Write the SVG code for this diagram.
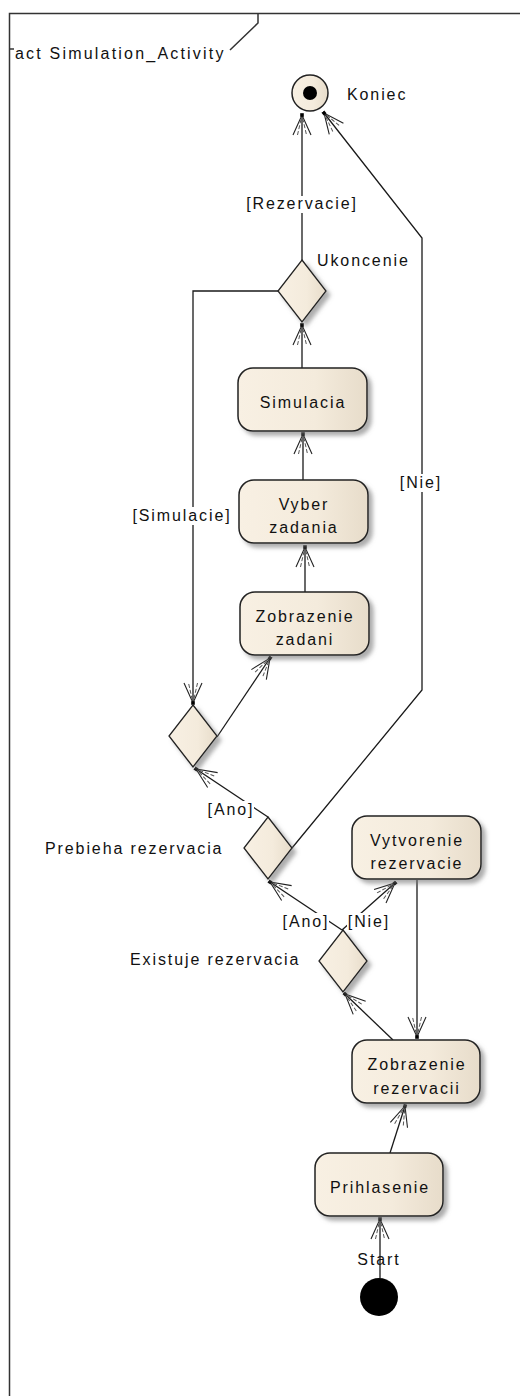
<svg xmlns="http://www.w3.org/2000/svg" width="520" height="1396" viewBox="0 0 520 1396">
  <style>
    text { font-family: "Liberation Sans", Arial, sans-serif; font-size: 16px; letter-spacing: 1.9px; fill: #111; }
    .mid { text-anchor: middle; }
    .frame { fill: none; stroke: #333; stroke-width: 1.5; }
    .act { fill: url(#cream); stroke: #222; stroke-width: 1.5; filter: url(#sh); }
    .dec { fill: url(#cream); stroke: #222; stroke-width: 1.3; filter: url(#sh); }
    .flow { fill: none; stroke: #1a1a1a; stroke-width: 1.3; marker-end: url(#arr); }
    .bg { fill: #fff; }
  </style>
  <defs>
    <linearGradient id="cream" x1="0" y1="0" x2="1" y2="0">
      <stop offset="0" stop-color="#f8f0e3"/>
      <stop offset="0.6" stop-color="#f4ebdc"/>
      <stop offset="1" stop-color="#e7dcca"/>
    </linearGradient>
    <filter id="sh" x="-15%" y="-15%" width="140%" height="140%">
      <feDropShadow dx="4" dy="4" stdDeviation="2" flood-color="#777" flood-opacity="0.6"/>
    </filter>
    <!-- open arrowhead with doubled arms and a small dot at the tip -->
    <marker id="arr" viewBox="-22 -11 24 22" refX="0" refY="0" markerWidth="24" markerHeight="22" markerUnits="userSpaceOnUse" orient="auto">
      <path d="M-20,-9 L0,0 L-20,9" fill="none" stroke="#222" stroke-width="1.1"/>
      <path d="M-20,-4.5 L0,0 L-20,4.5" fill="none" stroke="#555" stroke-width="1" stroke-dasharray="4 2"/>
      <rect x="-1.8" y="-1.8" width="3.6" height="3.6" fill="#000"/>
    </marker>
  </defs>

  <rect width="520" height="1396" fill="#fff"/>

  <!-- activity frame and name tab -->
  <g id="frame">
    <path class="frame" d="M9.5,1396 V13.5 H520"/>
    <path class="frame" d="M9.5,49 H14"/>
    <path class="frame" d="M258,13.5 V23 L230,50"/>
    <text x="15" y="59" style="letter-spacing:2.2px">act Simulation_Activity</text>
  </g>

  <!-- control flows -->
  <g id="connectors">
    <path class="flow" d="M380,1278 V1219"/>
    <path class="flow" d="M390,1153 L405,1106"/>
    <path class="flow" d="M393,1040 L345,994"/>
    <path class="flow" d="M342,930 L270,882"/>
    <path class="flow" d="M342,930 L395,883"/>
    <path class="flow" d="M417,880 V1037"/>
    <path class="flow" d="M268,817 L196,769"/>
    <path class="flow" d="M292,848 L422,690 V238 L324,113"/>
    <path class="flow" d="M217,737 L270,658"/>
    <path class="flow" d="M305,592 V547"/>
    <path class="flow" d="M303,480 V434"/>
    <path class="flow" d="M302,368 V325"/>
    <path class="flow" d="M302,260 V115"/>
    <path class="flow" d="M278,291 H193 V703"/>

    <!-- guard labels -->
    <rect class="bg" x="246" y="196" width="111" height="17"/>
    <text class="mid" x="302" y="209">[Rezervacie]</text>
    <rect class="bg" x="131" y="507" width="101" height="18"/>
    <text class="mid" x="182" y="521">[Simulacie]</text>
    <rect class="bg" x="401" y="474" width="39" height="18"/>
    <text class="mid" x="421" y="488">[Nie]</text>
    <rect class="bg" x="207" y="801" width="47" height="18"/>
    <text class="mid" x="231" y="815">[Ano]</text>
    <rect class="bg" x="282" y="913" width="47" height="18"/>
    <text class="mid" x="306" y="927">[Ano]</text>
    <rect class="bg" x="347" y="913" width="42" height="18"/>
    <text class="mid" x="369" y="927">[Nie]</text>
    <text class="mid" x="379" y="1265">Start</text>
  </g>

  <g id="final">
    <circle cx="310" cy="93" r="18" fill="url(#cream)" stroke="#222" stroke-width="1.5"/>
    <circle cx="310" cy="93" r="7" fill="#000"/>
    <text x="347" y="100">Koniec</text>
  </g>

  <g id="ukoncenie">
    <path class="dec" d="M302,260 L326,291 L302,322 L278,291 Z"/>
    <text x="317" y="266">Ukoncenie</text>
  </g>

  <g id="simulacia">
    <rect class="act" x="238" y="368" width="129" height="63" rx="15"/>
    <text class="mid" x="303" y="408">Simulacia</text>
  </g>

  <g id="vyber-zadania">
    <rect class="act" x="239" y="480" width="129" height="63" rx="15"/>
    <text class="mid" x="304" y="510">Vyber</text>
    <text class="mid" x="304" y="533">zadania</text>
  </g>

  <g id="zobrazenie-zadani">
    <rect class="act" x="240" y="592" width="129" height="63" rx="15"/>
    <text class="mid" x="305" y="622">Zobrazenie</text>
    <text class="mid" x="305" y="645">zadani</text>
  </g>

  <g id="volba-simulacie">
    <path class="dec" d="M193,705 L217,736 L193,767 L169,736 Z"/>
  </g>

  <g id="prebieha-rezervacia">
    <path class="dec" d="M268,817 L292,848 L268,879 L244,848 Z"/>
    <text x="45" y="854">Prebieha rezervacia</text>
  </g>

  <g id="vytvorenie-rezervacie">
    <rect class="act" x="352" y="816" width="129" height="63" rx="15"/>
    <text class="mid" x="417" y="846">Vytvorenie</text>
    <text class="mid" x="417" y="869">rezervacie</text>
  </g>

  <g id="existuje-rezervacia">
    <path class="dec" d="M343,930 L367,961 L343,992 L319,961 Z"/>
    <text x="130" y="965">Existuje rezervacia</text>
  </g>

  <g id="zobrazenie-rezervacii">
    <rect class="act" x="352" y="1040" width="128" height="63" rx="15"/>
    <text class="mid" x="417" y="1070">Zobrazenie</text>
    <text class="mid" x="417" y="1094">rezervacii</text>
  </g>

  <g id="prihlasenie">
    <rect class="act" x="315" y="1153" width="128" height="63" rx="15"/>
    <text class="mid" x="380" y="1193">Prihlasenie</text>
  </g>

  <g id="start">
    <circle cx="379" cy="1297" r="19" fill="#000"/>
  </g>
</svg>
